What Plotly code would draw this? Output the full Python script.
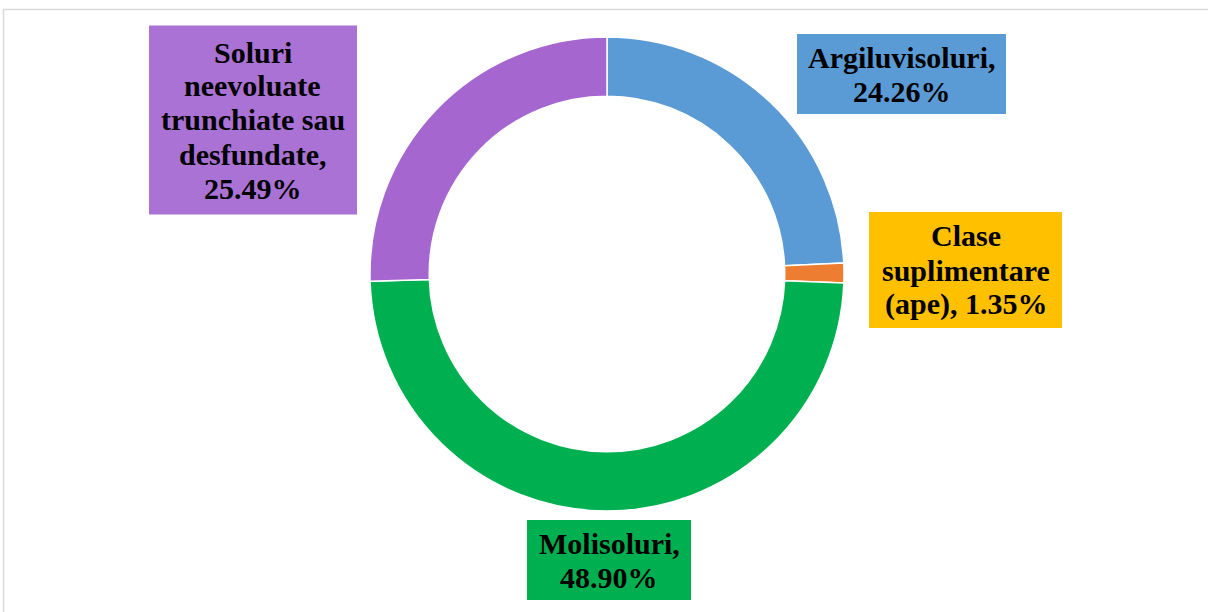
import plotly.graph_objects as go

W, H = 1208, 612

labels = ["Argiluvisoluri", "Clase suplimentare (ape)", "Molisoluri",
          "Soluri neevoluate trunchiate sau desfundate"]
values = [24.26, 1.35, 48.90, 25.49]
slice_colors = ["#5B9BD5", "#ED7D31", "#00B050", "#A566D0"]
box_colors = ["#5B9BD5", "#FFC000", "#00B050", "#AB72D6"]
label_lines = [["Argiluvisoluri,", "24.26%"],
               ["Clase", "suplimentare", "(ape), 1.35%"],
               ["Molisoluri,", "48.90%"],
               ["Soluri", "neevoluate", "trunchiate sau", "desfundate,", "25.49%"]]
# box centers and sizes in pixels (layout only)
box_geom = [(901.5, 74, 209, 80), (965.5, 270, 193, 116),
            (609, 560, 164, 80), (253, 120, 208, 189)]
LINE = 34

cx, cy, R = 607, 274, 237

fig = go.Figure(go.Pie(
    labels=labels, values=values, hole=0.75, sort=False, direction="clockwise",
    rotation=0, marker=dict(colors=slice_colors, line=dict(color="white", width=1.5)),
    textinfo="none", hoverinfo="label+percent",
    domain=dict(x=[(cx - R) / W, (cx + R) / W], y=[1 - (cy + R) / H, 1 - (cy - R) / H]),
))

for lines, c, (bx, by, bw, bh) in zip(label_lines, box_colors, box_geom):
    fig.add_shape(type="rect", xref="paper", yref="paper",
                  x0=(bx - bw / 2) / W, x1=(bx + bw / 2) / W,
                  y0=1 - (by + bh / 2) / H, y1=1 - (by - bh / 2) / H,
                  fillcolor=c, line=dict(width=0), layer="above")
    n = len(lines)
    for i, t in enumerate(lines):
        ly = by + (i - (n - 1) / 2) * LINE
        fig.add_annotation(
            text="<b>" + t + "</b>", xref="paper", yref="paper",
            x=bx / W, y=1 - ly / H, xanchor="center", yanchor="middle",
            showarrow=False, borderpad=0,
            font=dict(family="Liberation Serif", size=30, color="black"),
        )

fig.add_shape(type="rect", xref="paper", yref="paper",
              x0=3.5 / W, x1=1.02, y0=-0.02, y1=1 - 9.5 / H,
              line=dict(color="#D9D9D9", width=1.5), fillcolor="rgba(0,0,0,0)")

fig.update_layout(width=W, height=H, margin=dict(l=0, r=0, t=0, b=0),
                  showlegend=False, paper_bgcolor="white", plot_bgcolor="white")

fig.write_html("out.html", config={"displayModeBar": False},
               post_script="document.body.style.margin='0';")
